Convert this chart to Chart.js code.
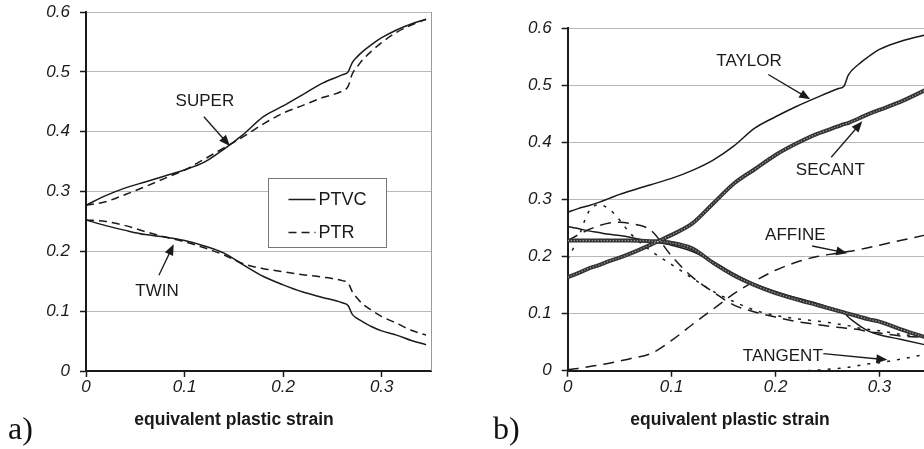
<!DOCTYPE html>
<html>
<head>
<meta charset="utf-8">
<script src="https://cdn.jsdelivr.net/npm/chart.js@4.4.1/dist/chart.umd.min.js"></script>
<style>
    html, body { margin: 0; padding: 0; background: #fff; }
    body { width: 924px; height: 449px; position: relative; overflow: hidden; font-family: "Liberation Sans", Arial, sans-serif; }
    canvas { position: absolute; top: 0; }
    #chartA { left: 0; }
    #chartB { left: 460px; }
    .axis-title { position: absolute; top: 409px; font-weight: bold; font-size: 17.5px; color: #1a1a1a; transform: translateX(-50%); white-space: nowrap; }
    .panel-tag { position: absolute; top: 412px; font-family: "Liberation Serif", "DejaVu Serif", serif; font-size: 32px; line-height: 1; color: #111; }
</style>
</head>
<body>
<canvas id="chartA" width="460" height="449"></canvas>
<canvas id="chartB" width="480" height="449"></canvas>
<div class="axis-title" style="left:234px;">equivalent plastic strain</div>
<div class="axis-title" style="left:730px;">equivalent plastic strain</div>
<div class="panel-tag" style="left:8px;">a)</div>
<div class="panel-tag" style="left:493px;">b)</div>

<script>
// Tick values
const xTicks = [0, 0.1, 0.2, 0.3];
const yTicks = [0, 0.1, 0.2, 0.3, 0.4, 0.5, 0.6];

// Panel a) - PTVC vs PTR
const strainA = [0, 0.02, 0.04, 0.06, 0.08, 0.10, 0.12, 0.14, 0.16, 0.18, 0.20, 0.22, 0.24, 0.26, 0.266, 0.27, 0.275, 0.28, 0.29, 0.30, 0.315, 0.33, 0.345];
const ptvcSuper = [0.277, 0.293, 0.306, 0.316, 0.326, 0.336, 0.349, 0.371, 0.396, 0.425, 0.443, 0.462, 0.481, 0.495, 0.500, 0.515, 0.525, 0.533, 0.546, 0.557, 0.570, 0.580, 0.588];
const ptrSuper = [0.277, 0.283, 0.295, 0.308, 0.322, 0.336, 0.354, 0.373, 0.392, 0.413, 0.431, 0.444, 0.457, 0.468, 0.476, 0.496, 0.508, 0.519, 0.535, 0.549, 0.566, 0.578, 0.588];
const ptvcTwin = [0.2525, 0.243, 0.235, 0.228, 0.224, 0.218, 0.209, 0.197, 0.177, 0.158, 0.144, 0.132, 0.123, 0.114, 0.109, 0.095, 0.088, 0.083, 0.074, 0.067, 0.060, 0.051, 0.044];
const ptrTwin = [0.2525, 0.250, 0.243, 0.233, 0.224, 0.216, 0.206, 0.194, 0.179, 0.171, 0.166, 0.161, 0.157, 0.151, 0.147, 0.133, 0.122, 0.113, 0.101, 0.091, 0.080, 0.068, 0.060];

// Panel b) - linearisation schemes
const strainB = [0, 0.01, 0.02, 0.03, 0.04, 0.05, 0.06, 0.08, 0.10, 0.12, 0.14, 0.16, 0.18, 0.20, 0.22, 0.24, 0.26, 0.266, 0.27, 0.28, 0.29, 0.30, 0.32, 0.35];
const taylorSuper = [0.2775, 0.284, 0.289, 0.295, 0.302, 0.309, 0.315, 0.326, 0.337, 0.351, 0.369, 0.394, 0.425, 0.445, 0.463, 0.479, 0.494, 0.499, 0.518, 0.537, 0.551, 0.563, 0.577, 0.591];
const taylorTwin = [0.2525, 0.249, 0.245, 0.242, 0.239, 0.237, 0.234, 0.226, 0.220, 0.209, 0.191, 0.170, 0.152, 0.139, 0.128, 0.118, 0.106, 0.102, 0.094, 0.080, 0.069, 0.063, 0.055, 0.043];
const secantSuper = [0.164, 0.171, 0.179, 0.185, 0.192, 0.198, 0.205, 0.221, 0.238, 0.258, 0.293, 0.328, 0.353, 0.378, 0.398, 0.415, 0.428, 0.432, 0.434, 0.442, 0.450, 0.457, 0.471, 0.497];
const secantTwin = [0.228, 0.228, 0.228, 0.228, 0.228, 0.228, 0.228, 0.227, 0.224, 0.214, 0.189, 0.167, 0.150, 0.136, 0.125, 0.115, 0.105, 0.102, 0.100, 0.095, 0.090, 0.086, 0.073, 0.055];
const affineSuper = [0.002, 0.004, 0.007, 0.010, 0.013, 0.017, 0.021, 0.030, 0.053, 0.081, 0.108, 0.135, 0.157, 0.176, 0.190, 0.200, 0.206, 0.208, 0.209, 0.212, 0.216, 0.220, 0.228, 0.240];
const affineTwin = [0.228, 0.238, 0.247, 0.254, 0.259, 0.260, 0.258, 0.246, 0.201, 0.164, 0.138, 0.115, 0.103, 0.094, 0.086, 0.081, 0.076, 0.075, 0.074, 0.072, 0.068, 0.066, 0.061, 0.058];
const tangentSuper = [0, 0, 0, 0, 0, 0, 0, 0, 0, 0, 0, 0, 0, 0, 0, 0.001, 0.004, 0.005, 0.006, 0.009, 0.012, 0.014, 0.020, 0.031];
const tangentTwin = [0.195, 0.232, 0.278, 0.291, 0.283, 0.264, 0.241, 0.210, 0.186, 0.162, 0.139, 0.121, 0.106, 0.097, 0.091, 0.087, 0.082, 0.080, 0.079, 0.075, 0.072, 0.070, 0.064, 0.058];

// Callouts (text anchor + arrow, in data units)
const calloutsA = [
    { text: 'SUPER', at: [0.1206, 0.450], from: [0.1196, 0.425], to: [0.146, 0.376] },
    { text: 'TWIN', at: [0.072, 0.134], from: [0.074, 0.160], to: [0.089, 0.212] }
];
const calloutsB = [
    { text: 'TAYLOR', at: [0.1745, 0.542], from: [0.193, 0.519], to: [0.2334, 0.4755] },
    { text: 'SECANT', at: [0.2527, 0.351], from: [0.2536, 0.374], to: [0.2835, 0.437] },
    { text: 'AFFINE', at: [0.219, 0.238], from: [0.2353, 0.2185], to: [0.269, 0.206] },
    { text: 'TANGENT', at: [0.207, 0.026], from: [0.246, 0.030], to: [0.3076, 0.019] }
];

const FONT = '"Liberation Sans", Arial, sans-serif';
const INK = '#1a1a1a';

const pairUp = (xs, ys) => xs.map((x, i) => ({ x, y: ys[i] }));
const fmt = v => (v === 0 ? '0' : v.toFixed(1));

// Line style presets
function solid(label, xs, ys) {
    return { label, data: pairUp(xs, ys), borderColor: INK, borderWidth: 1.5, order: 2 };
}
function dashed(label, xs, ys, dash) {
    return { label, data: pairUp(xs, ys), borderColor: INK, borderWidth: 1.5, borderDash: dash, order: 2 };
}
// Thick "rope" look: dark wide stroke + light dashed stroke on top
function rope(label, xs, ys) {
    return [
        { label, data: pairUp(xs, ys), borderColor: '#333', borderWidth: 4, order: 1 },
        { label: label + ' (hatch)', data: pairUp(xs, ys), borderColor: 'rgba(255,255,255,0.55)', borderWidth: 1.2, borderDash: [1.2, 1.8], order: 0 }
    ];
}

function scales(axisHeight) {
    const tickFont = { family: FONT, size: 17, style: 'italic' };
    return {
        x: {
            type: 'linear', min: 0, max: 0.35,
            afterBuildTicks: s => { s.ticks = xTicks.map(v => ({ value: v })); },
            afterFit: s => { s.height = axisHeight; s.paddingLeft = 0; s.paddingRight = 0; },
            grid: { drawOnChartArea: false, tickLength: 6, tickColor: INK, tickWidth: 1.5 },
            border: { color: INK, width: 2 },
            ticks: { font: tickFont, color: INK, padding: 0, maxRotation: 0, callback: fmt }
        },
        y: {
            type: 'linear', min: 0, max: 0.6,
            afterBuildTicks: s => { s.ticks = yTicks.map(v => ({ value: v })); },
            afterFit: s => { s.width = 86; s.paddingTop = 0; s.paddingBottom = 0; },
            grid: { color: '#b8b8b8', lineWidth: 1, tickLength: 6, tickColor: INK, tickWidth: 1.5 },
            border: { color: INK, width: 2 },
            ticks: { font: tickFont, color: INK, padding: 10, callback: fmt }
        }
    };
}

function drawArrow(ctx, x1, y1, x2, y2) {
    const ang = Math.atan2(y2 - y1, x2 - x1);
    const len = 11, half = 4.5;
    ctx.beginPath();
    ctx.moveTo(x1, y1);
    ctx.lineTo(x2 - Math.cos(ang) * len * 0.8, y2 - Math.sin(ang) * len * 0.8);
    ctx.stroke();
    ctx.beginPath();
    ctx.moveTo(x2, y2);
    ctx.lineTo(x2 - Math.cos(ang) * len - Math.sin(ang) * half, y2 - Math.sin(ang) * len + Math.cos(ang) * half);
    ctx.lineTo(x2 - Math.cos(ang) * len + Math.sin(ang) * half, y2 - Math.sin(ang) * len - Math.cos(ang) * half);
    ctx.closePath();
    ctx.fill();
}

// Frame, callouts and boxed legend
const decorPlugin = {
    id: 'decor',
    afterDraw(chart, args, opts) {
        const { ctx, chartArea: area, scales: { x, y } } = chart;
        ctx.save();

        // gray right-hand frame line
        ctx.strokeStyle = '#9a9a9a';
        ctx.lineWidth = 1;
        ctx.beginPath();
        ctx.moveTo(area.right + 0.5, area.top);
        ctx.lineTo(area.right + 0.5, area.bottom);
        ctx.stroke();

        // callouts
        ctx.font = '17px ' + FONT;
        ctx.fillStyle = INK;
        ctx.strokeStyle = INK;
        ctx.lineWidth = 1.3;
        ctx.textAlign = 'center';
        ctx.textBaseline = 'middle';
        (opts.callouts || []).forEach(c => {
            ctx.fillText(c.text, x.getPixelForValue(c.at[0]), y.getPixelForValue(c.at[1]));
            drawArrow(ctx,
                x.getPixelForValue(c.from[0]), y.getPixelForValue(c.from[1]),
                x.getPixelForValue(c.to[0]), y.getPixelForValue(c.to[1]));
        });

        // legend box
        if (opts.legend) {
            const bx = Math.round(x.getPixelForValue(opts.legend.x)) + 0.5;
            const by = Math.round(y.getPixelForValue(opts.legend.y)) + 0.5;
            const bw = 118, bh = 69;
            ctx.fillStyle = '#fff';
            ctx.fillRect(bx, by, bw, bh);
            ctx.strokeStyle = '#777';
            ctx.lineWidth = 1;
            ctx.strokeRect(bx, by, bw, bh);

            ctx.font = '18px ' + FONT;
            ctx.textAlign = 'left';
            opts.legend.items.forEach((idx, row) => {
                const ds = chart.data.datasets[idx];
                const ly = by + 21 + row * 33;
                ctx.strokeStyle = ds.borderColor;
                ctx.lineWidth = ds.borderWidth;
                ctx.setLineDash(ds.borderDash || []);
                ctx.beginPath();
                ctx.moveTo(bx + 20, ly);
                ctx.lineTo(bx + 47, ly);
                ctx.stroke();
                ctx.setLineDash([]);
                ctx.fillStyle = INK;
                ctx.fillText(ds.label, bx + 50, ly + 1);
            });
        }
        ctx.restore();
    }
};

const commonOptions = {
    responsive: false,
    animation: false,
    elements: { point: { radius: 0 }, line: { cubicInterpolationMode: 'monotone', borderCapStyle: 'butt' } },
    plugins: { legend: { display: false }, tooltip: { enabled: false } }
};

// Panel a)
new Chart(document.getElementById('chartA'), {
    type: 'line',
    data: {
        datasets: [
            solid('PTVC', strainA, ptvcSuper),
            dashed('PTR', strainA, ptrSuper, [8, 5]),
            solid('PTVC twin', strainA, ptvcTwin),
            dashed('PTR twin', strainA, ptrTwin, [8, 5])
        ]
    },
    options: {
        ...commonOptions,
        layout: { padding: { left: 0, top: 12, right: 29, bottom: 0 } },
        scales: scales(78),
        plugins: {
            ...commonOptions.plugins,
            decor: { callouts: calloutsA, legend: { x: 0.1846, y: 0.3226, items: [0, 1] } }
        }
    },
    plugins: [decorPlugin]
});

// Panel b)
new Chart(document.getElementById('chartB'), {
    type: 'line',
    data: {
        datasets: [
            solid('TAYLOR', strainB, taylorSuper),
            solid('TAYLOR twin', strainB, taylorTwin),
            ...rope('SECANT', strainB, secantSuper),
            ...rope('SECANT twin', strainB, secantTwin),
            dashed('AFFINE', strainB, affineSuper, [11, 7]),
            dashed('AFFINE twin', strainB, affineTwin, [11, 7]),
            dashed('TANGENT', strainB, tangentSuper, [3, 7]),
            dashed('TANGENT twin', strainB, tangentTwin, [3, 7])
        ]
    },
    options: {
        ...commonOptions,
        layout: { padding: { left: 21.7, top: 28.3, right: 8.6, bottom: 0 } },
        scales: scales(78.3),
        plugins: {
            ...commonOptions.plugins,
            decor: { callouts: calloutsB }
        }
    },
    plugins: [decorPlugin]
});
</script>
</body>
</html>
